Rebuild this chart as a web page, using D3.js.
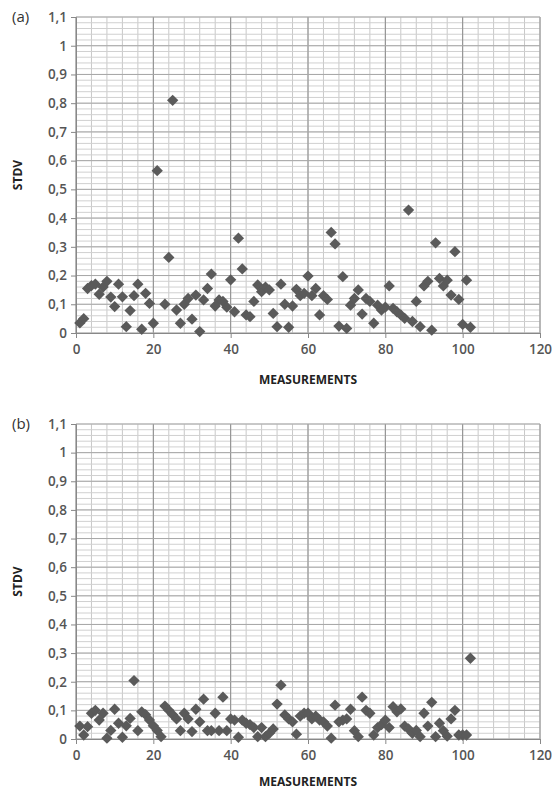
<!DOCTYPE html>
<html>
<head>
  <meta charset="UTF-8">
  <title>STDV vs measurements</title>
  <script src="https://d3js.org/d3.v7.min.js"></script>
  <style>
    body { margin: 0; background: #fff; }
    svg { display: block; }
    .tick text { font-family: "Open Sans", sans-serif; font-size: 13.5px; fill: #555; font-weight: 600; }
    .title-lbl { font-family: "Open Sans", sans-serif; font-size: 15px; fill: #333; }
    .axis-lbl { font-family: "Open Sans", sans-serif; font-size: 12px; font-weight: 700; fill: #222; }
  </style>
</head>
<body>
<svg id="chart" width="552" height="792"></svg>
<script>
// x tick values and labels
var xTicks = [0, 20, 40, 60, 80, 100, 120];
var yTicks = [0, 0.1, 0.2, 0.3, 0.4, 0.5, 0.6, 0.7, 0.8, 0.9, 1, 1.1];
var yTickLabels = ["0", "0,1", "0,2", "0,3", "0,4", "0,5", "0,6", "0,7", "0,8", "0,9", "1", "1,1"];

// STDV per measurement (1..102), null = no point
var stdvA = [
  0.035, 0.05, 0.155, 0.165, 0.17, 0.135, 0.16, 0.18, 0.125, 0.092,
  0.17, 0.126, 0.022, 0.078, 0.13, 0.17, 0.013, 0.138, 0.103, 0.034,
  0.565, null, 0.10, 0.263, 0.81, 0.08, 0.034, 0.10, 0.12, 0.048,
  0.132, 0.005, 0.115, 0.155, 0.205, 0.094, 0.115, 0.11, 0.09, 0.185,
  0.074, 0.33, 0.223, 0.063, 0.057, 0.11, 0.167, 0.144, 0.16, 0.15,
  0.068, 0.022, 0.17, 0.10, 0.02, 0.094, 0.152, 0.13, 0.138, 0.198,
  0.13, 0.155, 0.063, 0.13, 0.117, 0.35, 0.31, 0.024, 0.196, 0.016,
  0.097, 0.12, 0.15, 0.066, 0.12, 0.11, 0.034, 0.097, 0.08, 0.09,
  0.164, 0.086, 0.074, 0.063, 0.051, 0.428, 0.04, 0.11, 0.022, 0.164,
  0.18, 0.01, 0.314, 0.19, 0.164, 0.184, 0.132, 0.283, 0.117, 0.03,
  0.184, 0.02
];

var stdvB = [
  0.045, 0.014, 0.043, 0.09, 0.10, 0.066, 0.09, 0.003, 0.03, 0.104,
  0.055, 0.006, 0.046, 0.072, 0.204, 0.029, 0.095, 0.085, 0.066, 0.046,
  0.03, 0.008, 0.115, 0.10, 0.085, 0.07, 0.029, 0.09, 0.07, 0.026,
  0.104, 0.06, 0.139, 0.029, 0.029, 0.09, 0.029, 0.146, 0.029, 0.07,
  0.066, 0.006, 0.066, 0.055, 0.05, 0.04, 0.008, 0.04, 0.008, 0.02,
  0.035, 0.122, 0.188, 0.084, 0.07, 0.06, 0.017, 0.08, 0.09, 0.09,
  0.07, 0.08, 0.066, 0.06, 0.045, 0.003, 0.118, 0.06, 0.066, 0.07,
  0.104, 0.029, 0.008, 0.146, 0.10, 0.09, 0.014, 0.04, 0.05, 0.066,
  0.04, 0.113, 0.095, 0.105, 0.045, 0.035, 0.02, 0.03, 0.008, 0.09,
  0.045, 0.128, 0.008, 0.055, 0.029, 0.01, 0.07, 0.10, 0.014, 0.014,
  0.014, 0.282
];

var svg = d3.select("#chart");

function drawPanel(values, label, top, bottom, titleGap) {
  var left = 76, right = 540;
  var x = d3.scaleLinear().domain([0, 120]).range([left, right]);
  var y = d3.scaleLinear().domain([0, 1.1]).range([bottom, top]);
  var g = svg.append("g");

  // minor grid
  g.selectAll(".vmin").data(d3.range(0, 121, 4)).enter().append("line")
    .attr("x1", d => x(d)).attr("x2", d => x(d))
    .attr("y1", top).attr("y2", bottom)
    .attr("stroke", "#c8c8c8").attr("stroke-width", 1);
  g.selectAll(".hmin").data(d3.range(0, 56).map(i => i * 0.02)).enter().append("line")
    .attr("x1", left).attr("x2", right)
    .attr("y1", d => y(d)).attr("y2", d => y(d))
    .attr("stroke", "#d0d0d0").attr("stroke-width", 1);
  // major grid
  g.selectAll(".vmaj").data(xTicks).enter().append("line")
    .attr("x1", d => x(d)).attr("x2", d => x(d))
    .attr("y1", top).attr("y2", bottom)
    .attr("stroke", "#8c8c8c").attr("stroke-width", 1);
  g.selectAll(".hmaj").data(yTicks).enter().append("line")
    .attr("x1", left).attr("x2", right)
    .attr("y1", d => y(d)).attr("y2", d => y(d))
    .attr("stroke", "#a8a8a8").attr("stroke-width", 1);

  // axes
  var xa = g.append("g").attr("transform", "translate(0," + bottom + ")")
    .call(d3.axisBottom(x).tickValues(xTicks).tickSize(5).tickPadding(6));
  xa.select(".domain").attr("stroke", "#888");
  xa.selectAll(".tick line").attr("stroke", "#888");
  var ya = g.append("g").attr("transform", "translate(" + left + ",0)")
    .call(d3.axisLeft(y).tickValues(yTicks).tickSize(5).tickPadding(4)
      .tickFormat((d, i) => yTickLabels[i]));
  ya.select(".domain").attr("stroke", "#888");
  ya.selectAll(".tick line").attr("stroke", "#888");

  // points
  var pts = values.map((v, i) => ({ m: i + 1, v: v })).filter(d => d.v !== null);
  var sym = d3.symbol().type(d3.symbolSquare).size(64);
  g.selectAll(".pt").data(pts).enter().append("path")
    .attr("d", sym)
    .attr("transform", d => "translate(" + x(d.m) + "," + y(d.v) + ") rotate(45)")
    .attr("fill", "#5a5a5a");

  g.append("text").attr("class", "title-lbl")
    .attr("x", 12).attr("y", top + 5).text(label);
  g.append("text").attr("class", "axis-lbl")
    .attr("transform", "translate(22," + ((top + bottom) / 2) + ") rotate(-90)")
    .attr("text-anchor", "middle").text("STDV");
  g.append("text").attr("class", "axis-lbl")
    .attr("x", 308).attr("y", bottom + titleGap)
    .attr("text-anchor", "middle").text("MEASUREMENTS");
}

drawPanel(stdvA, "(a)", 17, 333, 51);
drawPanel(stdvB, "(b)", 424, 739, 47);
</script>
</body>
</html>
